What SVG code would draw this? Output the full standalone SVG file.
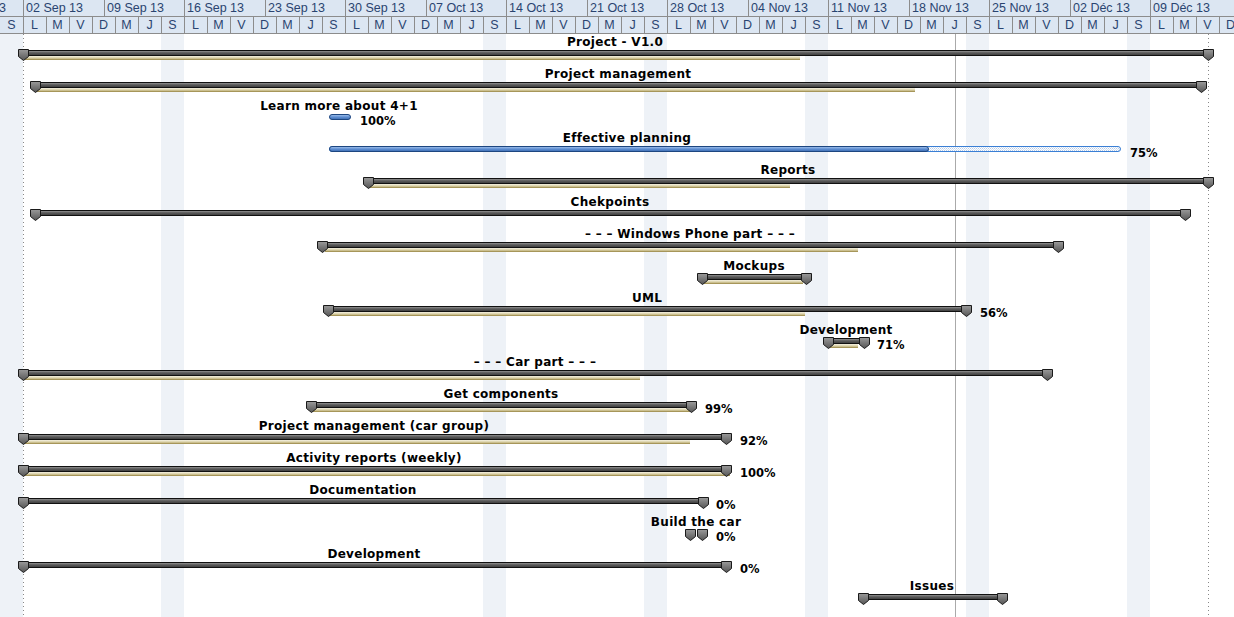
<svg xmlns="http://www.w3.org/2000/svg" xmlns:xlink="http://www.w3.org/1999/xlink" width="1234" height="617" viewBox="0 0 1234 617">
<defs>
<linearGradient id="gGray" x1="0" y1="0" x2="0" y2="1">
<stop offset="0" stop-color="#a0a0a0"/><stop offset="0.45" stop-color="#5c5c5c"/><stop offset="1" stop-color="#3a3a3a"/>
</linearGradient>
<linearGradient id="gCap" x1="0" y1="0" x2="0" y2="1">
<stop offset="0" stop-color="#9a9a9a"/><stop offset="1" stop-color="#555"/>
</linearGradient>
<linearGradient id="gTan" x1="0" y1="0" x2="0" y2="1">
<stop offset="0" stop-color="#f4f1e2"/><stop offset="0.55" stop-color="#d6cca0"/><stop offset="1" stop-color="#94813f"/>
</linearGradient>
<linearGradient id="gBlue" x1="0" y1="0" x2="0" y2="1">
<stop offset="0" stop-color="#a8c6ee"/><stop offset="0.5" stop-color="#5f8fd3"/><stop offset="1" stop-color="#3c6bb0"/>
</linearGradient>
<pattern id="pDots" width="2" height="2" patternUnits="userSpaceOnUse">
<rect width="2" height="2" fill="#ffffff"/><rect width="1" height="1" fill="#b9cde8"/><rect x="1" y="1" width="1" height="1" fill="#d6e2f2"/>
</pattern>
<polygon id="cap" points="-5,-1 5,-1 5,6 0,10 -5,6" fill="url(#gCap)" stroke="#1a1a1a" stroke-width="1"/>
</defs>
<style>
.hdr{fill:#dce6f2}
.hl{stroke:#8c8c8c;stroke-width:1}
.ht{font-family:"Liberation Sans",Arial,sans-serif;font-size:12.5px;fill:#2a4470}
.dt{font-family:"Liberation Sans",Arial,sans-serif;font-size:12.5px;fill:#2a4470;text-anchor:middle}
.we{fill:#eef2f7}
.lbl{font-family:"DejaVu Sans",sans-serif;font-size:12px;font-weight:bold;fill:#000;text-anchor:middle;letter-spacing:0.3px}
.pct{font-family:"DejaVu Sans",sans-serif;font-size:11.5px;font-weight:bold;fill:#000}
.bar{fill:url(#gGray);stroke:#111;stroke-width:1}
.tan{fill:url(#gTan)}
.task{fill:url(#gBlue);stroke:#1d4680;stroke-width:1}
.rest{fill:url(#pDots);stroke:#3a7fd5;stroke-width:1}
.dot{stroke:#888;stroke-width:1;stroke-dasharray:1,3}
</style>
<rect width="1234" height="617" fill="#ffffff"/>
<g id="weekends">
<rect class="we" x="0" y="34" width="23" height="583"/>
<rect class="we" x="161" y="34" width="23" height="583"/>
<rect class="we" x="483" y="34" width="23" height="583"/>
<rect class="we" x="644" y="34" width="23" height="583"/>
<rect class="we" x="805" y="34" width="23" height="583"/>
<rect class="we" x="966" y="34" width="23" height="583"/>
<rect class="we" x="1127" y="34" width="23" height="583"/>
</g>
<g id="guides">
<line class="dot" x1="23.5" y1="34" x2="23.5" y2="617"/>
<line class="dot" x1="1208.5" y1="34" x2="1208.5" y2="617"/>
<line x1="955.5" y1="34" x2="955.5" y2="617" stroke="#aaaaaa" stroke-width="1"/>
</g>
<g id="header">
<rect class="hdr" x="0" y="0" width="1234" height="33"/>
<line class="hl" x1="0" y1="16.5" x2="1234" y2="16.5"/>
<line class="hl" x1="0" y1="33.5" x2="1234" y2="33.5"/>
<g class="hl">
<line x1="23.5" y1="0" x2="23.5" y2="17"/><line x1="104.5" y1="0" x2="104.5" y2="17"/><line x1="184.5" y1="0" x2="184.5" y2="17"/><line x1="265.5" y1="0" x2="265.5" y2="17"/><line x1="345.5" y1="0" x2="345.5" y2="17"/><line x1="426.5" y1="0" x2="426.5" y2="17"/><line x1="506.5" y1="0" x2="506.5" y2="17"/><line x1="587.5" y1="0" x2="587.5" y2="17"/><line x1="667.5" y1="0" x2="667.5" y2="17"/><line x1="748.5" y1="0" x2="748.5" y2="17"/><line x1="828.5" y1="0" x2="828.5" y2="17"/><line x1="909.5" y1="0" x2="909.5" y2="17"/><line x1="989.5" y1="0" x2="989.5" y2="17"/><line x1="1070.5" y1="0" x2="1070.5" y2="17"/><line x1="1150.5" y1="0" x2="1150.5" y2="17"/>
</g>
<g class="ht">
<text x="-1" y="12">3</text>
<text x="26" y="12">02 Sep 13</text><text x="107" y="12">09 Sep 13</text><text x="187" y="12">16 Sep 13</text><text x="268" y="12">23 Sep 13</text><text x="348" y="12">30 Sep 13</text><text x="429" y="12">07 Oct 13</text><text x="509" y="12">14 Oct 13</text><text x="590" y="12">21 Oct 13</text><text x="670" y="12">28 Oct 13</text><text x="751" y="12">04 Nov 13</text><text x="831" y="12">11 Nov 13</text><text x="912" y="12">18 Nov 13</text><text x="992" y="12">25 Nov 13</text><text x="1073" y="12">02 Déc 13</text><text x="1153" y="12">09 Déc 13</text>
</g>
<g class="hl">
<line x1="23.5" y1="17" x2="23.5" y2="33"/><line x1="46.5" y1="17" x2="46.5" y2="33"/><line x1="69.5" y1="17" x2="69.5" y2="33"/><line x1="92.5" y1="17" x2="92.5" y2="33"/><line x1="115.5" y1="17" x2="115.5" y2="33"/><line x1="138.5" y1="17" x2="138.5" y2="33"/><line x1="161.5" y1="17" x2="161.5" y2="33"/><line x1="184.5" y1="17" x2="184.5" y2="33"/><line x1="207.5" y1="17" x2="207.5" y2="33"/><line x1="230.5" y1="17" x2="230.5" y2="33"/><line x1="253.5" y1="17" x2="253.5" y2="33"/><line x1="276.5" y1="17" x2="276.5" y2="33"/><line x1="299.5" y1="17" x2="299.5" y2="33"/><line x1="322.5" y1="17" x2="322.5" y2="33"/><line x1="345.5" y1="17" x2="345.5" y2="33"/><line x1="368.5" y1="17" x2="368.5" y2="33"/><line x1="391.5" y1="17" x2="391.5" y2="33"/><line x1="414.5" y1="17" x2="414.5" y2="33"/><line x1="437.5" y1="17" x2="437.5" y2="33"/><line x1="460.5" y1="17" x2="460.5" y2="33"/><line x1="483.5" y1="17" x2="483.5" y2="33"/><line x1="506.5" y1="17" x2="506.5" y2="33"/><line x1="529.5" y1="17" x2="529.5" y2="33"/><line x1="552.5" y1="17" x2="552.5" y2="33"/><line x1="575.5" y1="17" x2="575.5" y2="33"/><line x1="598.5" y1="17" x2="598.5" y2="33"/><line x1="621.5" y1="17" x2="621.5" y2="33"/><line x1="644.5" y1="17" x2="644.5" y2="33"/><line x1="667.5" y1="17" x2="667.5" y2="33"/><line x1="690.5" y1="17" x2="690.5" y2="33"/><line x1="713.5" y1="17" x2="713.5" y2="33"/><line x1="736.5" y1="17" x2="736.5" y2="33"/><line x1="759.5" y1="17" x2="759.5" y2="33"/><line x1="782.5" y1="17" x2="782.5" y2="33"/><line x1="805.5" y1="17" x2="805.5" y2="33"/><line x1="828.5" y1="17" x2="828.5" y2="33"/><line x1="851.5" y1="17" x2="851.5" y2="33"/><line x1="874.5" y1="17" x2="874.5" y2="33"/><line x1="897.5" y1="17" x2="897.5" y2="33"/><line x1="920.5" y1="17" x2="920.5" y2="33"/><line x1="943.5" y1="17" x2="943.5" y2="33"/><line x1="966.5" y1="17" x2="966.5" y2="33"/><line x1="989.5" y1="17" x2="989.5" y2="33"/><line x1="1012.5" y1="17" x2="1012.5" y2="33"/><line x1="1035.5" y1="17" x2="1035.5" y2="33"/><line x1="1058.5" y1="17" x2="1058.5" y2="33"/><line x1="1081.5" y1="17" x2="1081.5" y2="33"/><line x1="1104.5" y1="17" x2="1104.5" y2="33"/><line x1="1127.5" y1="17" x2="1127.5" y2="33"/><line x1="1150.5" y1="17" x2="1150.5" y2="33"/><line x1="1173.5" y1="17" x2="1173.5" y2="33"/><line x1="1196.5" y1="17" x2="1196.5" y2="33"/><line x1="1219.5" y1="17" x2="1219.5" y2="33"/>
</g>
<g class="dt">
<text x="11.5" y="29">S</text><text x="34.5" y="29">L</text><text x="57.5" y="29">M</text><text x="80.5" y="29">V</text><text x="103.5" y="29">D</text><text x="126.5" y="29">M</text><text x="149.5" y="29">J</text>
<text x="172.5" y="29">S</text><text x="195.5" y="29">L</text><text x="218.5" y="29">M</text><text x="241.5" y="29">V</text><text x="264.5" y="29">D</text><text x="287.5" y="29">M</text><text x="310.5" y="29">J</text>
<text x="333.5" y="29">S</text><text x="356.5" y="29">L</text><text x="379.5" y="29">M</text><text x="402.5" y="29">V</text><text x="425.5" y="29">D</text><text x="448.5" y="29">M</text><text x="471.5" y="29">J</text>
<text x="494.5" y="29">S</text><text x="517.5" y="29">L</text><text x="540.5" y="29">M</text><text x="563.5" y="29">V</text><text x="586.5" y="29">D</text><text x="609.5" y="29">M</text><text x="632.5" y="29">J</text>
<text x="655.5" y="29">S</text><text x="678.5" y="29">L</text><text x="701.5" y="29">M</text><text x="724.5" y="29">V</text><text x="747.5" y="29">D</text><text x="770.5" y="29">M</text><text x="793.5" y="29">J</text>
<text x="816.5" y="29">S</text><text x="839.5" y="29">L</text><text x="862.5" y="29">M</text><text x="885.5" y="29">V</text><text x="908.5" y="29">D</text><text x="931.5" y="29">M</text><text x="954.5" y="29">J</text>
<text x="977.5" y="29">S</text><text x="1000.5" y="29">L</text><text x="1023.5" y="29">M</text><text x="1046.5" y="29">V</text><text x="1069.5" y="29">D</text><text x="1092.5" y="29">M</text><text x="1115.5" y="29">J</text>
<text x="1138.5" y="29">S</text><text x="1161.5" y="29">L</text><text x="1184.5" y="29">M</text><text x="1207.5" y="29">V</text><text x="1230.5" y="29">D</text>
</g>
</g>
<g id="connectors"></g>
<g id="n-project">
<text class="lbl" x="615" y="46">Project - V1.0</text>
<rect class="tan" x="25" y="56" width="775" height="4"/>
<rect class="bar" x="23.5" y="50.5" width="1185" height="5"/>
<use href="#cap" x="23.5" y="50.5"/><use href="#cap" x="1208.5" y="50.5"/>
</g>
<g id="n-pm">
<text class="lbl" x="618" y="78">Project management</text>
<rect class="tan" x="37" y="88" width="878" height="4"/>
<rect class="bar" x="35.5" y="82.5" width="1166" height="5"/>
<use href="#cap" x="35.5" y="82.5"/><use href="#cap" x="1201.5" y="82.5"/>
</g>
<g id="n-learn">
<text class="lbl" x="339" y="110">Learn more about 4+1</text>
<rect class="task" x="329.5" y="114.5" width="21" height="5" rx="2.5"/>
<text class="pct" x="360" y="125">100%</text>
</g>
<g id="n-planning">
<text class="lbl" x="627" y="142">Effective planning</text>
<rect class="rest" x="329.5" y="146.5" width="791" height="5" rx="2.5"/>
<rect class="task" x="329.5" y="146.5" width="599" height="5" rx="2.5"/>
<text class="pct" x="1130" y="157">75%</text>
</g>
<g id="n-reports">
<text class="lbl" x="788" y="174">Reports</text>
<rect class="tan" x="370" y="184" width="420" height="4"/>
<rect class="bar" x="368.5" y="178.5" width="840" height="5"/>
<use href="#cap" x="368.5" y="178.5"/><use href="#cap" x="1208.5" y="178.5"/>
</g>
<g id="n-checkpoints">
<text class="lbl" x="610" y="206">Chekpoints</text>
<rect class="bar" x="35.5" y="210.5" width="1150" height="5"/>
<use href="#cap" x="35.5" y="210.5"/><use href="#cap" x="1185.5" y="210.5"/>
</g>
<g id="n-wp">
<text class="lbl" x="690" y="238">– – – Windows Phone part – – –</text>
<rect class="tan" x="325" y="248" width="533" height="4"/>
<rect class="bar" x="322.5" y="242.5" width="736" height="5"/>
<use href="#cap" x="322.5" y="242.5"/><use href="#cap" x="1058.5" y="242.5"/>
</g>
<g id="n-mockups">
<text class="lbl" x="754" y="270">Mockups</text>
<rect class="tan" x="704" y="280" width="99" height="4"/>
<rect class="bar" x="702.5" y="274.5" width="104" height="5"/>
<use href="#cap" x="702.5" y="274.5"/><use href="#cap" x="806.5" y="274.5"/>
</g>
<g id="n-uml">
<text class="lbl" x="647" y="302">UML</text>
<rect class="tan" x="330" y="312" width="475" height="4"/>
<rect class="bar" x="328.5" y="306.5" width="638" height="5"/>
<use href="#cap" x="328.5" y="306.5"/><use href="#cap" x="966.5" y="306.5"/>
<text class="pct" x="980" y="317">56%</text>
</g>
<g id="n-dev-wp">
<text class="lbl" x="846" y="334">Development</text>
<rect class="tan" x="830" y="344" width="28" height="4"/>
<rect class="bar" x="828.5" y="338.5" width="36" height="5"/>
<use href="#cap" x="828.5" y="338.5"/><use href="#cap" x="864.5" y="338.5"/>
<text class="pct" x="877" y="349">71%</text>
</g>
<g id="n-car">
<text class="lbl" x="535" y="366">– – – Car part – – –</text>
<rect class="tan" x="25" y="376" width="615" height="4"/>
<rect class="bar" x="23.5" y="370.5" width="1024" height="5"/>
<use href="#cap" x="23.5" y="370.5"/><use href="#cap" x="1047.5" y="370.5"/>
</g>
<g id="n-components">
<text class="lbl" x="501" y="398">Get components</text>
<rect class="tan" x="313" y="408" width="377" height="4"/>
<rect class="bar" x="311.5" y="402.5" width="380" height="5"/>
<use href="#cap" x="311.5" y="402.5"/><use href="#cap" x="691.5" y="402.5"/>
<text class="pct" x="705" y="413">99%</text>
</g>
<g id="n-pm-car">
<text class="lbl" x="374" y="430">Project management (car group)</text>
<rect class="tan" x="25" y="440" width="665" height="4"/>
<rect class="bar" x="23.5" y="434.5" width="703" height="5"/>
<use href="#cap" x="23.5" y="434.5"/><use href="#cap" x="726.5" y="434.5"/>
<text class="pct" x="740" y="445">92%</text>
</g>
<g id="n-activity">
<text class="lbl" x="374" y="462">Activity reports (weekly)</text>
<rect class="tan" x="25" y="472" width="705" height="4"/>
<rect class="bar" x="23.5" y="466.5" width="703" height="5"/>
<use href="#cap" x="23.5" y="466.5"/><use href="#cap" x="726.5" y="466.5"/>
<text class="pct" x="740" y="477">100%</text>
</g>
<g id="n-doc">
<text class="lbl" x="363" y="494">Documentation</text>
<rect class="bar" x="23.5" y="498.5" width="680" height="5"/>
<use href="#cap" x="23.5" y="498.5"/><use href="#cap" x="703.5" y="498.5"/>
<text class="pct" x="716" y="509">0%</text>
</g>
<g id="n-build">
<text class="lbl" x="696" y="526">Build the car</text>
<use href="#cap" x="690.5" y="530.5"/><use href="#cap" x="702.5" y="530.5"/>
<text class="pct" x="716" y="541">0%</text>
</g>
<g id="n-dev-car">
<text class="lbl" x="374" y="558">Development</text>
<rect class="bar" x="23.5" y="562.5" width="703" height="5"/>
<use href="#cap" x="23.5" y="562.5"/><use href="#cap" x="726.5" y="562.5"/>
<text class="pct" x="740" y="573">0%</text>
</g>
<g id="n-issues">
<text class="lbl" x="932" y="590">Issues</text>
<rect class="bar" x="863.5" y="594.5" width="139" height="5"/>
<use href="#cap" x="863.5" y="594.5"/><use href="#cap" x="1002.5" y="594.5"/>
</g>
</svg>
